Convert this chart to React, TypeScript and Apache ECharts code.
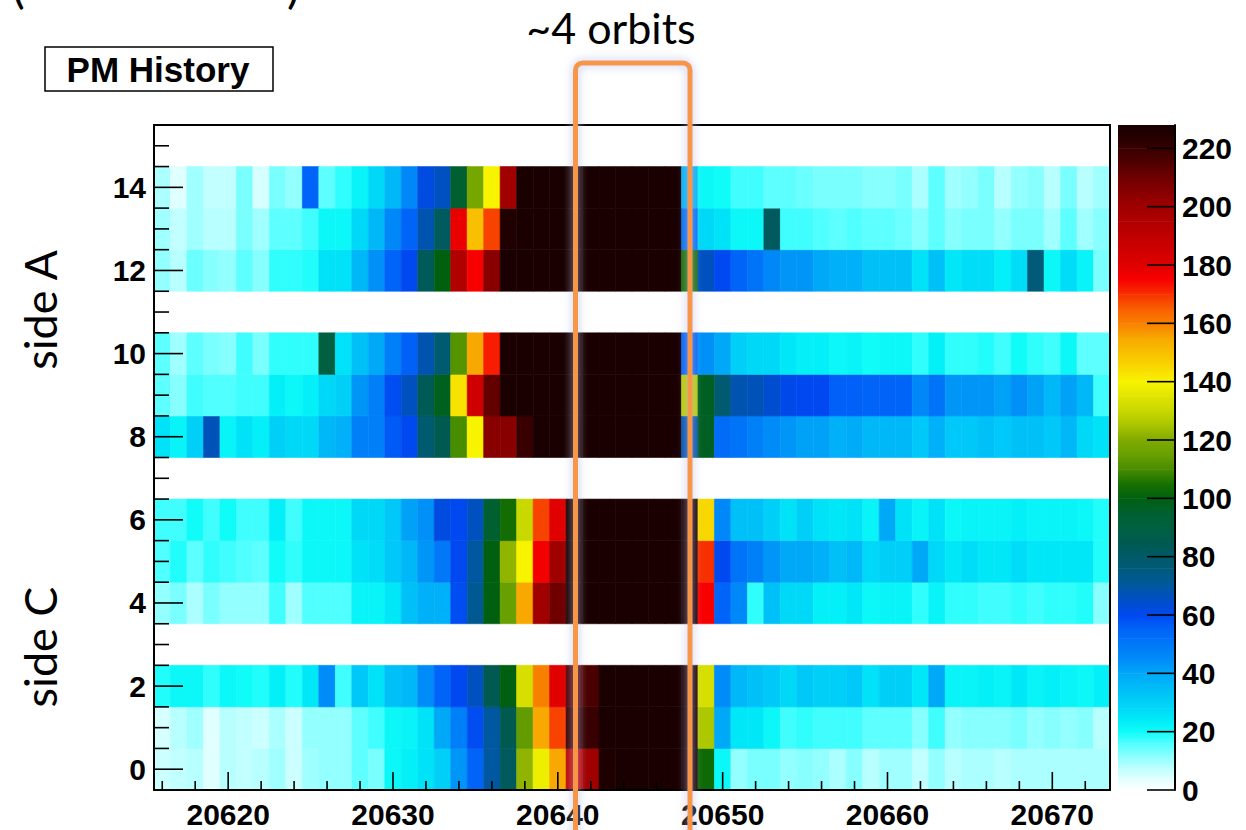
import React, { useEffect, useRef } from 'react';
import * as echarts from 'echarts';

// ---------- data ----------
const firstBin = 20616; // centre of the first x bin (bin width 1)
const rowIds = [0, 1, 2, 4, 5, 6, 8, 9, 10, 12, 13, 14];

const row0 = [6,7,8,4,8,7,8,10,6,10,11,11,15,13,21,23,26,30,43,55,70,82,122,138,155,190,200,226,228,228,228,228,228,103,21,11,13,13,11,12,11,9,12,8,10,10,7,11,8,9,9,8,9,9,9,9,9,9];
const row1 = [5,8,10,4,8,7,6,9,6,11,11,11,15,17,21,22,26,40,48,59,70,85,114,155,168,220,220,228,228,228,228,228,228,126,40,25,25,21,17,18,17,17,17,15,15,15,12,17,11,12,12,12,13,11,12,11,12,8];
const row2 = [19,21,21,18,21,20,19,23,19,25,45,17,32,26,34,36,45,55,60,66,85,100,133,160,180,215,216,228,228,228,228,228,228,133,45,36,34,32,28,32,30,30,32,26,30,30,25,40,22,22,23,22,25,22,23,22,21,23];
const row4 = [11,13,9,13,11,11,11,17,10,16,16,16,22,22,25,34,38,38,59,72,100,115,155,200,210,228,228,228,228,228,228,228,228,175,55,46,18,34,28,28,23,23,25,21,22,22,18,22,18,18,17,17,18,17,18,18,19,12];
const row5 = [16,19,15,18,17,16,15,20,18,21,21,21,26,27,32,36,43,50,60,70,100,122,140,176,200,228,228,228,228,228,228,228,228,170,60,51,48,43,40,40,38,34,36,28,30,30,40,28,25,27,25,25,27,25,25,25,25,19];
const row6 = [17,17,20,17,20,17,17,23,17,21,21,21,28,28,32,41,44,62,60,66,95,104,130,168,180,228,228,228,228,228,228,228,228,145,46,34,34,30,26,30,26,25,26,22,40,26,22,26,21,22,22,22,23,22,22,22,21,19];
const row8 = [26,22,30,67,22,26,23,30,28,28,36,38,48,48,57,60,78,85,110,140,205,205,220,228,228,228,228,228,228,228,228,228,68,97,53,51,48,45,43,41,41,38,39,36,36,36,32,38,32,32,34,32,34,34,32,36,28,26];
const row9 = [15,12,17,16,16,17,17,23,21,23,28,30,43,48,59,66,84,98,143,185,212,228,228,228,228,228,228,228,228,228,228,228,128,97,78,68,67,64,61,60,60,56,56,55,55,55,46,51,43,43,43,41,44,41,36,41,36,17];
const row10 = [15,10,15,13,12,17,13,18,18,18,90,26,34,40,48,56,68,78,112,155,172,228,228,228,228,228,228,228,228,228,228,228,55,44,40,30,28,28,25,23,23,21,22,20,21,21,18,23,18,18,19,17,20,18,17,21,15,15];
const row12 = [11,8,14,12,11,15,12,18,18,19,26,26,36,44,55,60,83,100,195,175,205,228,228,228,228,228,228,228,228,228,228,228,105,66,60,55,51,46,43,43,40,38,38,34,34,34,26,34,25,27,27,23,27,76,21,27,22,13];
const row13 = [10,7,10,8,8,13,10,15,15,17,21,21,28,36,46,55,68,82,178,150,168,225,228,228,228,228,228,228,228,228,228,228,52,28,26,21,21,82,17,17,16,15,16,15,15,14,12,15,12,13,13,11,13,13,10,15,10,12];
const row14 = [9,4,10,7,7,13,5,13,11,55,15,18,22,28,36,46,62,66,95,118,140,200,228,228,228,228,228,228,228,228,228,228,37,21,20,17,17,15,15,14,13,13,13,12,12,13,9,15,10,11,13,8,11,12,8,13,8,10];
const rows = [row0, row1, row2, row4, row5, row6, row8, row9, row10, row12, row13, row14];

const xMajor = [20620, 20630, 20640, 20650, 20660, 20670];
const xMinor = [20616, 20618, 20622, 20624, 20626, 20628, 20632, 20634, 20636, 20638, 20642, 20644, 20646, 20648, 20652, 20654, 20656, 20658, 20662, 20664, 20666, 20668, 20672];
const yMajor = [0, 2, 4, 6, 8, 10, 12, 14];
const yMinor = [0.5, 1, 1.5, 2.5, 3, 3.5, 4.5, 5, 5.5, 6.5, 7, 7.5, 8.5, 9, 9.5, 10.5, 11, 11.5, 12.5, 13, 13.5, 14.5, 15];
const zTicks = [0, 20, 40, 60, 80, 100, 120, 140, 160, 180, 200, 220];
const zMax = 228;

// colour palette (value -> colour)
const palValues = [0,4,8,12,16,20,24,28,32,36,40,44,48,52,56,60,66,70,76,80,85,90,95,100,105,110,115,120,125,130,135,140,145,150,155,160,165,170,175,180,185,190,195,200,205,210,215,220,225,228];
const palColors = ['#ffffff','#e0ffff','#b8ffff','#88ffff','#50ffff','#10fcf8','#00ecf8','#00d8f8','#00c8f8','#00b8f8','#00a8f8','#0090f8','#0080f8','#0070f8','#0060f8','#0048f0','#0050c0','#0058a0','#005a78','#005a68','#005a50','#006040','#006030','#006010','#187000','#488c00','#68a000','#80aa00','#a8c400','#c8d800','#e0e400','#f8f400','#f8d800','#f8c000','#f8a800','#f88000','#f86000','#f83000','#f80000','#e00000','#d00000','#c00000','#b00000','#a00000','#880000','#700000','#500000','#380000','#200000','#1a0000'];

function hexToRgb(h: string) {
  return [parseInt(h.slice(1, 3), 16), parseInt(h.slice(3, 5), 16), parseInt(h.slice(5, 7), 16)];
}
function colorFor(v: number) {
  if (v <= palValues[0]) return palColors[0];
  for (let i = 1; i < palValues.length; i++) {
    if (v <= palValues[i]) {
      const t = (v - palValues[i - 1]) / (palValues[i] - palValues[i - 1]);
      const a = hexToRgb(palColors[i - 1]);
      const b = hexToRgb(palColors[i]);
      const c = a.map((x, k) => Math.round(x + (b[k] - x) * t));
      return `rgb(${c[0]},${c[1]},${c[2]})`;
    }
  }
  return palColors[palColors.length - 1];
}

const FONT = '"Liberation Sans", Arial, sans-serif';
const X_MIN = 20615.5, X_MAX = 20673.5, Y_MIN = -0.5, Y_MAX = 15.5;

export default function App() {
  const ref = useRef<HTMLDivElement>(null);
  useEffect(() => {
    if (!ref.current) return;
    const chart = echarts.init(ref.current, undefined, { renderer: 'svg' });

    const cells: number[][] = [];
    rows.forEach((r, ri) => {
      r.forEach((v, ci) => cells.push([firstBin + ci, rowIds[ri], v]));
    });
    const barSegs: number[][] = [];
    for (let i = 1; i < palValues.length; i++) barSegs.push([palValues[i - 1], palValues[i], i]);
    const xTickData = [...xMajor.map((v) => [v, 1]), ...xMinor.map((v) => [v, 0])];
    const yTickData = [...yMajor.map((v) => [v, 1]), ...yMinor.map((v) => [v, 0])];
    const zTickData = zTicks.map((v) => [v]);

    const tickLabel = { color: '#000', fontSize: 30, fontWeight: 'bold', fontFamily: FONT };
    const frameLine = { show: true, onZero: false, lineStyle: { color: '#000', width: 2 } };
    const tickStyle = { stroke: '#000', lineWidth: 1.6 };

    chart.setOption({
      animation: false,
      backgroundColor: '#fff',
      grid: [
        { left: 154, top: 125, width: 956, height: 665 },
        { left: 1118, top: 125, width: 57, height: 665 },
      ],
      xAxis: [
        {
          gridIndex: 0, type: 'value', min: X_MIN, max: X_MAX, position: 'bottom', z: 10,
          axisLine: frameLine,
          axisTick: { show: false },
          axisLabel: { show: true, customValues: xMajor, margin: 9, ...tickLabel, formatter: (v: number) => String(v) },
          splitLine: { show: false },
        },
        {
          gridIndex: 0, type: 'value', min: X_MIN, max: X_MAX, position: 'top', z: 10,
          axisLine: frameLine,
          axisTick: { show: false }, axisLabel: { show: false }, splitLine: { show: false },
        },
        { gridIndex: 1, type: 'value', min: 0, max: 1, show: false },
      ],
      yAxis: [
        {
          gridIndex: 0, type: 'value', min: Y_MIN, max: Y_MAX, position: 'left', z: 10,
          axisLine: frameLine,
          axisTick: { show: false },
          axisLabel: { show: true, customValues: yMajor, margin: 8, ...tickLabel },
          splitLine: { show: false },
        },
        {
          gridIndex: 0, type: 'value', min: Y_MIN, max: Y_MAX, position: 'right', z: 10,
          axisLine: frameLine,
          axisTick: { show: false }, axisLabel: { show: false }, splitLine: { show: false },
        },
        {
          gridIndex: 1, type: 'value', min: 0, max: zMax, interval: 20, position: 'right', z: 10,
          axisLine: frameLine,
          axisTick: { show: false },
          axisLabel: { show: true, margin: 7, ...tickLabel },
          splitLine: { show: false },
        },
      ],
      series: [
        {
          type: 'custom', xAxisIndex: 0, yAxisIndex: 0, z: 2, silent: true,
          data: cells,
          renderItem: (params: any, api: any) => {
            const x = api.value(0);
            const y = api.value(1);
            const v = api.value(2);
            const p0 = api.coord([x - 0.5, y + 0.5]);
            const p1 = api.coord([x + 0.5, y - 0.5]);
            const c = colorFor(v);
            return {
              type: 'rect',
              shape: { x: p0[0], y: p0[1], width: p1[0] - p0[0], height: p1[1] - p0[1] },
              style: { fill: c, stroke: c, lineWidth: 0.6 },
            };
          },
        },
        {
          type: 'custom', xAxisIndex: 2, yAxisIndex: 2, z: 2, silent: true,
          data: barSegs,
          renderItem: (params: any, api: any) => {
            const lo = api.value(0);
            const hi = api.value(1);
            const i = api.value(2);
            const pTop = api.coord([0, hi]);
            const pBot = api.coord([1, lo]);
            return {
              type: 'rect',
              shape: { x: pTop[0], y: pTop[1], width: pBot[0] - pTop[0], height: pBot[1] - pTop[1] + 0.5 },
              style: {
                fill: new echarts.graphic.LinearGradient(0, 1, 0, 0, [
                  { offset: 0, color: palColors[i - 1] },
                  { offset: 1, color: palColors[i] },
                ]),
              },
            };
          },
        },
        {
          // x-axis ticks (inside, pointing up)
          type: 'custom', xAxisIndex: 0, yAxisIndex: 0, z: 6, silent: true,
          data: xTickData,
          renderItem: (params: any, api: any) => {
            const p = api.coord([api.value(0), Y_MIN]);
            const len = api.value(1) ? 18 : 9;
            return { type: 'line', shape: { x1: p[0], y1: p[1], x2: p[0], y2: p[1] - len }, style: tickStyle };
          },
        },
        {
          // y-axis ticks (inside, pointing right)
          type: 'custom', xAxisIndex: 0, yAxisIndex: 0, z: 6, silent: true,
          data: yTickData,
          renderItem: (params: any, api: any) => {
            const p = api.coord([X_MIN, api.value(0)]);
            const len = api.value(1) ? 29 : 15;
            return { type: 'line', shape: { x1: p[0], y1: p[1], x2: p[0] + len, y2: p[1] }, style: tickStyle };
          },
        },
        {
          // colour-bar ticks (on the right edge, pointing left)
          type: 'custom', xAxisIndex: 2, yAxisIndex: 2, z: 6, silent: true,
          data: zTickData,
          renderItem: (params: any, api: any) => {
            const p = api.coord([1, api.value(0)]);
            return { type: 'line', shape: { x1: p[0], y1: p[1], x2: p[0] - 28, y2: p[1] }, style: tickStyle };
          },
        },
      ],
      graphic: [
        { type: 'text', left: 12, top: -40, style: { text: '(', font: '48px Lato, sans-serif', fill: '#000' } },
        { type: 'text', left: 287, top: -40, style: { text: ')', font: '48px Lato, sans-serif', fill: '#000' } },
        {
          type: 'rect', shape: { x: 45, y: 47, width: 228, height: 44 },
          style: { fill: '#fff', stroke: '#000', lineWidth: 1.5 },
        },
        {
          type: 'text', x: 158, y: 69,
          style: { text: 'PM History', font: `bold 35px ${FONT}`, fill: '#000', align: 'center', verticalAlign: 'middle' },
        },
        {
          type: 'text', x: 611, y: 27,
          style: { text: '~4 orbits', font: '43px Lato, sans-serif', fill: '#000', align: 'center', verticalAlign: 'middle' },
        },
        {
          type: 'text', x: 40, y: 310, rotation: Math.PI / 2,
          style: { text: 'side A', font: '45px Lato, sans-serif', fill: '#000', align: 'center', verticalAlign: 'middle' },
        },
        {
          type: 'text', x: 40, y: 647, rotation: Math.PI / 2,
          style: { text: 'side C', font: '45px Lato, sans-serif', fill: '#000', align: 'center', verticalAlign: 'middle' },
        },
        {
          type: 'rect', z: 100,
          shape: { x: 575.5, y: 63, width: 114.5, height: 900, r: 7 },
          style: { fill: 'none', stroke: '#f79646', lineWidth: 5, shadowBlur: 10, shadowColor: 'rgba(180,190,230,0.9)' },
        },
      ],
    });
    return () => chart.dispose();
  }, []);
  return <div ref={ref} style={{ position: 'absolute', left: 0, top: 0, width: 1246, height: 830 }} />;
}
